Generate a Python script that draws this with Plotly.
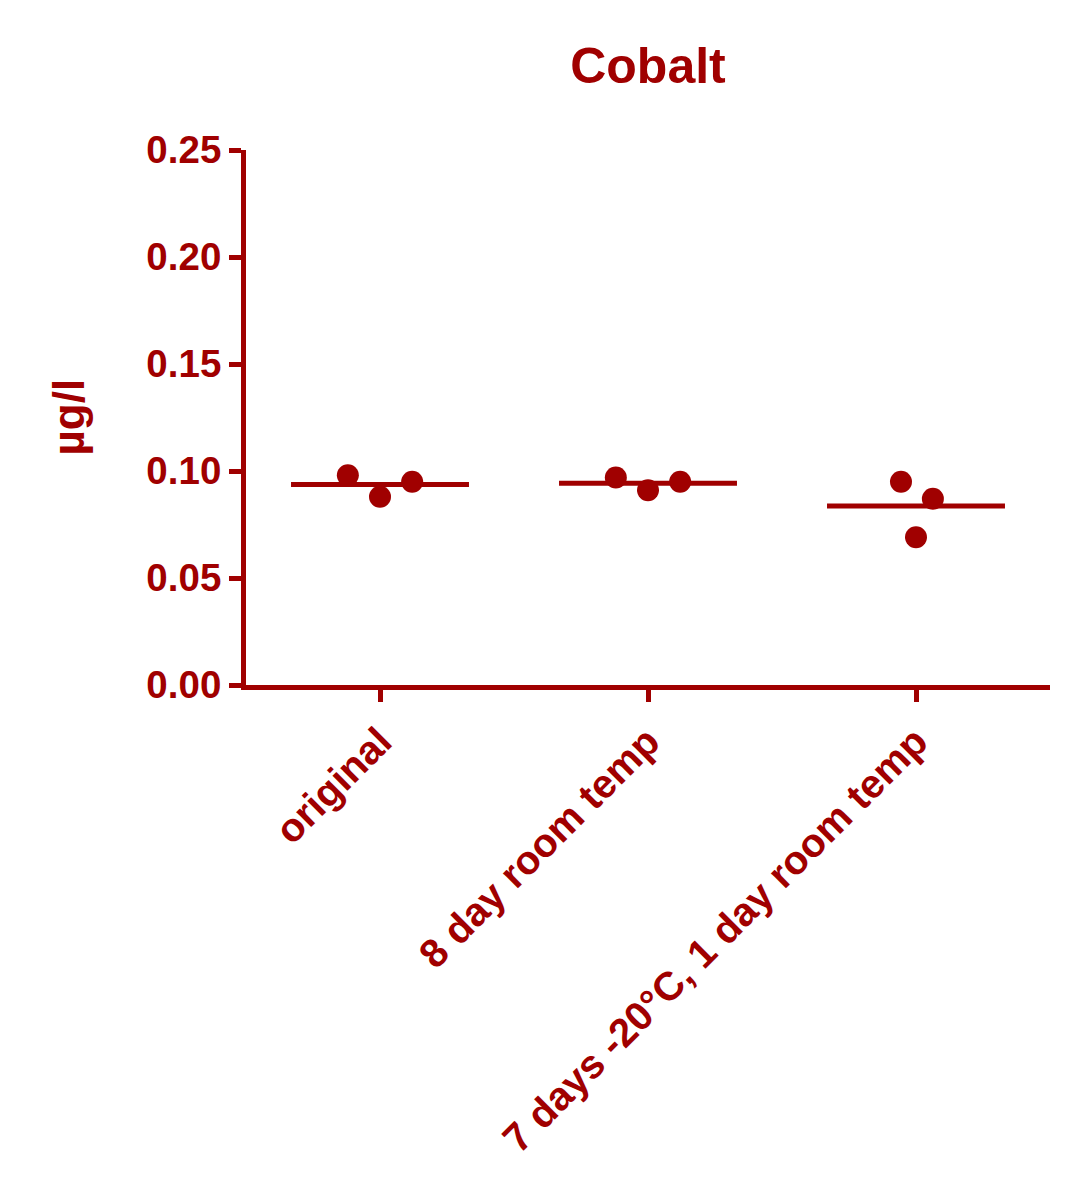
import plotly.graph_objects as go

# ---- data ----
categories = ["original", "8 day room temp", "7 days -20°C, 1 day room temp"]
values_original = [0.098, 0.088, 0.095]
values_8day = [0.097, 0.091, 0.095]
values_7days = [0.095, 0.087, 0.069]
jitter_original = [-0.12, 0.0, 0.12]
jitter_8day = [-0.12, 0.0, 0.12]
jitter_7days = [-0.056, 0.063, 0.0]
y_ticks = [0.00, 0.05, 0.10, 0.15, 0.20, 0.25]
y_tick_labels = ["0.00", "0.05", "0.10", "0.15", "0.20", "0.25"]
title_text = "Cobalt"
y_title = "µg/l"

COLOR = "#A00000"
FONT = "Liberation Sans, Arial, sans-serif"
MEAN_HALF = 0.332

groups = [values_original, values_8day, values_7days]
jitters = [jitter_original, jitter_8day, jitter_7days]

fig = go.Figure()
for i, (vals, jit) in enumerate(zip(groups, jitters)):
    mean = sum(vals) / len(vals)
    fig.add_trace(go.Scatter(
        x=[i - MEAN_HALF, i + MEAN_HALF], y=[mean, mean], mode="lines",
        line=dict(color=COLOR, width=5), showlegend=False, hoverinfo="skip"))
    fig.add_trace(go.Scatter(
        x=[i + j for j in jit], y=vals, mode="markers",
        marker=dict(color=COLOR, size=22, line=dict(width=0)),
        showlegend=False))

L, R, T, B = 238, 35, 142, 523
PW = 1077 - L - R

fig.update_layout(
    width=1077, height=1200,
    margin=dict(l=L, r=R, t=T, b=B),
    paper_bgcolor="white", plot_bgcolor="white",
    font=dict(family=FONT, color=COLOR, size=38, weight="bold"),
    title=dict(text=title_text, x=0.5, xref="paper", xanchor="center",
               y=1 - 57 / 1200, yref="container", yanchor="middle",
               font=dict(size=50, family=FONT, color=COLOR, weight="bold")),
    xaxis=dict(range=[-0.5, 2.5], tickvals=list(range(len(categories))),
               ticktext=categories, tickangle=-45,
               showline=True, linecolor=COLOR, linewidth=5,
               ticks="outside", ticklen=12, tickwidth=5, tickcolor=COLOR,
               showgrid=False, zeroline=False,
               tickfont=dict(size=40, family=FONT, color=COLOR, weight="bold")),
    yaxis=dict(range=[0, 0.25], tickvals=y_ticks, ticktext=y_tick_labels,
               showline=True, linecolor=COLOR, linewidth=5,
               ticks="outside", ticklen=12, tickwidth=5, tickcolor=COLOR,
               showgrid=False, zeroline=False,
               tickfont=dict(size=38.5, family=FONT, color=COLOR, weight="bold")),
    annotations=[dict(text=y_title, xref="paper", yref="paper",
                      x=(60 - L) / PW, y=0.5, xanchor="center", yanchor="middle",
                      textangle=-90, showarrow=False,
                      font=dict(size=44, family=FONT, color=COLOR, weight="bold"))],
)

fig.write_html("out.html")
